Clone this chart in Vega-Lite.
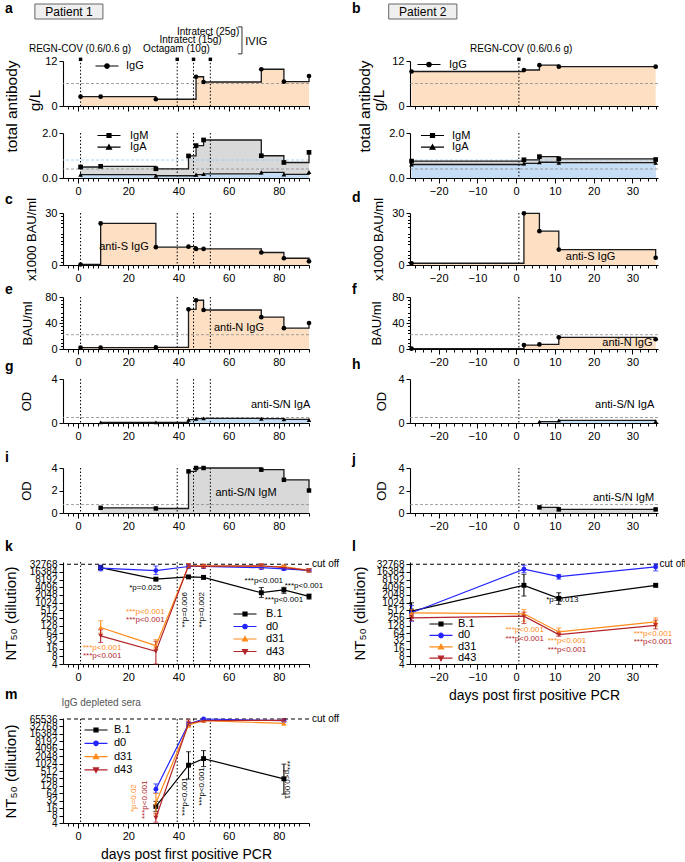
{
"$schema": "https://vega.github.io/schema/vega-lite/v6.json",
"background": "white",
"padding": {"left": 3, "top": 0, "right": 0, "bottom": 0},
"columns": 2,
"bounds": "flush",
"spacing": {"row": 0, "column": 101},
"resolve": {"scale": {"color": "independent", "shape": "independent"}, "legend": {"color": "independent", "shape": "independent"}},
"datasets": {
 "one": [{}],
 "p1_tx": [{"day": 1}, {"day": 39.5}, {"day": 46}, {"day": 52.7}],
 "p2_tx": [{"day": 0.7}],
 "p1_igg": [{"iso": "IgG", "day": 1, "value": 2.5}, {"iso": "IgG", "day": 9, "value": 2.5}, {"iso": "IgG", "day": 31, "value": 1.8}, {"iso": "IgG", "day": 47, "value": 7.8}, {"iso": "IgG", "day": 50, "value": 6.4}, {"iso": "IgG", "day": 73, "value": 9.8}, {"iso": "IgG", "day": 82, "value": 6.5}, {"iso": "IgG", "day": 92, "value": 8.0}],
 "p1_igma": [{"iso": "IgM", "day": 1, "value": 0.49}, {"iso": "IgM", "day": 9, "value": 0.52}, {"iso": "IgM", "day": 31, "value": 0.41}, {"iso": "IgM", "day": 44, "value": 0.98}, {"iso": "IgM", "day": 47, "value": 1.44}, {"iso": "IgM", "day": 50, "value": 1.69}, {"iso": "IgM", "day": 73, "value": 0.99}, {"iso": "IgM", "day": 82, "value": 0.69}, {"iso": "IgM", "day": 92, "value": 1.14}, {"iso": "IgA", "day": 1, "value": 0.15}, {"iso": "IgA", "day": 31, "value": 0.1}, {"iso": "IgA", "day": 47, "value": 0.15}, {"iso": "IgA", "day": 50, "value": 0.18}, {"iso": "IgA", "day": 73, "value": 0.25}, {"iso": "IgA", "day": 82, "value": 0.16}, {"iso": "IgA", "day": 92, "value": 0.27}],
 "p2_igg": [{"iso": "IgG", "day": -27, "value": 9.2}, {"iso": "IgG", "day": 2, "value": 9.6}, {"iso": "IgG", "day": 6, "value": 10.9}, {"iso": "IgG", "day": 11, "value": 10.5}, {"iso": "IgG", "day": 36, "value": 10.5}],
 "p2_igma": [{"iso": "IgM", "day": -27, "value": 0.75}, {"iso": "IgM", "day": 2, "value": 0.81}, {"iso": "IgM", "day": 6, "value": 0.95}, {"iso": "IgM", "day": 11, "value": 0.85}, {"iso": "IgM", "day": 36, "value": 0.82}, {"iso": "IgA", "day": -27, "value": 0.6}, {"iso": "IgA", "day": 2, "value": 0.65}, {"iso": "IgA", "day": 6, "value": 0.7}, {"iso": "IgA", "day": 11, "value": 0.68}, {"iso": "IgA", "day": 36, "value": 0.68}],
 "p1_antiS": [{"day": 1, "value": 0.3}, {"day": 9, "value": 24}, {"day": 31, "value": 10.3}, {"day": 44, "value": 10.6}, {"day": 47, "value": 9.3}, {"day": 50, "value": 9.3}, {"day": 73, "value": 7.2}, {"day": 82, "value": 3.9}, {"day": 92, "value": 2.1}],
 "p2_antiS": [{"day": -27, "value": 1}, {"day": 2, "value": 29.8}, {"day": 6, "value": 19.5}, {"day": 11, "value": 8.9}, {"day": 36, "value": 4.2}],
 "p1_antiN": [{"day": 1, "value": 2}, {"day": 9, "value": 2}, {"day": 31, "value": 2.5}, {"day": 44, "value": 61}, {"day": 47, "value": 75}, {"day": 50, "value": 60}, {"day": 73, "value": 49}, {"day": 82, "value": 32}, {"day": 92, "value": 40}],
 "p2_antiN": [{"day": -27, "value": 0.5}, {"day": 2, "value": 6}, {"day": 6, "value": 7}, {"day": 11, "value": 18}, {"day": 36, "value": 15}],
 "p1_odA": [{"day": 9, "value": 0.06}, {"day": 31, "value": 0.06}, {"day": 44, "value": 0.3}, {"day": 47, "value": 0.39}, {"day": 50, "value": 0.42}, {"day": 73, "value": 0.39}, {"day": 82, "value": 0.33}, {"day": 92, "value": 0.27}],
 "p2_odA": [{"day": 6, "value": 0.12}, {"day": 11, "value": 0.24}, {"day": 36, "value": 0.15}],
 "p1_odM": [{"day": 9, "value": 0.46}, {"day": 31, "value": 0.4}, {"day": 44, "value": 3.7}, {"day": 47, "value": 4.0}, {"day": 50, "value": 4.0}, {"day": 73, "value": 3.85}, {"day": 82, "value": 2.95}, {"day": 92, "value": 2.0}],
 "p2_odM": [{"day": 6, "value": 0.5}, {"day": 11, "value": 0.32}, {"day": 36, "value": 0.32}],
 "k_nt": [
  {"series": "B.1", "day": 9, "value": 24000, "lo": 20000, "hi": 28500}, {"series": "B.1", "day": 31, "value": 8500, "lo": 7600, "hi": 9500}, {"series": "B.1", "day": 44, "value": 10400, "lo": 9500, "hi": 11400}, {"series": "B.1", "day": 50, "value": 10000, "lo": 8600, "hi": 11600}, {"series": "B.1", "day": 73, "value": 2500, "lo": 1620, "hi": 3980}, {"series": "B.1", "day": 82, "value": 3200, "lo": 2350, "hi": 4070}, {"series": "B.1", "day": 92, "value": 1800, "lo": 1400, "hi": 2200},
  {"series": "d0", "day": 9, "value": 23000, "lo": 18000, "hi": 30000}, {"series": "d0", "day": 31, "value": 18400, "lo": 12900, "hi": 28000}, {"series": "d0", "day": 44, "value": 26600, "lo": 23000, "hi": 31000}, {"series": "d0", "day": 50, "value": 26600, "lo": 23000, "hi": 31000}, {"series": "d0", "day": 73, "value": 24000, "lo": 21000, "hi": 28000}, {"series": "d0", "day": 82, "value": 21600, "lo": 19000, "hi": 25000}, {"series": "d0", "day": 92, "value": 18800, "lo": 16500, "hi": 21500},
  {"series": "d31", "day": 9, "value": 108, "lo": 65, "hi": 198}, {"series": "d31", "day": 31, "value": 21, "lo": 16, "hi": 36}, {"series": "d31", "day": 44, "value": 28500, "lo": 24000, "hi": 34000}, {"series": "d31", "day": 50, "value": 28500, "lo": 24500, "hi": 33000}, {"series": "d31", "day": 73, "value": 26600, "lo": 22000, "hi": 32000}, {"series": "d31", "day": 82, "value": 26600, "lo": 23000, "hi": 31000}, {"series": "d31", "day": 92, "value": 18800, "lo": 16000, "hi": 22000},
  {"series": "d43", "day": 9, "value": 51, "lo": 28, "hi": 88}, {"series": "d43", "day": 31, "value": 12.5, "lo": 4, "hi": 31}, {"series": "d43", "day": 44, "value": 28500, "lo": 24000, "hi": 34000}, {"series": "d43", "day": 50, "value": 27000, "lo": 23000, "hi": 32000}, {"series": "d43", "day": 73, "value": 28500, "lo": 24000, "hi": 34000}, {"series": "d43", "day": 82, "value": 24000, "lo": 21000, "hi": 28000}, {"series": "d43", "day": 92, "value": 18800, "lo": 16500, "hi": 21500}],
 "l_nt": [
  {"series": "B.1", "day": -27, "value": 474, "lo": 258, "hi": 1010}, {"series": "B.1", "day": 2, "value": 4870, "lo": 1850, "hi": 13200}, {"series": "B.1", "day": 11, "value": 1500, "lo": 870, "hi": 2500}, {"series": "B.1", "day": 36, "value": 4870, "lo": 4300, "hi": 5500},
  {"series": "d0", "day": -27, "value": 407, "lo": 191, "hi": 792}, {"series": "d0", "day": 2, "value": 20800, "lo": 15300, "hi": 29900}, {"series": "d0", "day": 11, "value": 10700, "lo": 8500, "hi": 13000}, {"series": "d0", "day": 36, "value": 25700, "lo": 18000, "hi": 34000},
  {"series": "d31", "day": -27, "value": 407, "lo": 300, "hi": 550}, {"series": "d31", "day": 2, "value": 372, "lo": 191, "hi": 549}, {"series": "d31", "day": 11, "value": 72.5, "lo": 57, "hi": 104}, {"series": "d31", "day": 36, "value": 180, "lo": 121, "hi": 258},
  {"series": "d43", "day": -27, "value": 258, "lo": 200, "hi": 330}, {"series": "d43", "day": 2, "value": 300, "lo": 154, "hi": 434}, {"series": "d43", "day": 11, "value": 57, "lo": 49, "hi": 77}, {"series": "d43", "day": 36, "value": 132, "lo": 95, "hi": 210}],
 "m_nt": [
  {"series": "B.1", "day": 31, "value": 18.8, "lo": 11.8, "hi": 30}, {"series": "B.1", "day": 44, "value": 880, "lo": 240, "hi": 3100}, {"series": "B.1", "day": 50, "value": 1630, "lo": 776, "hi": 3440}, {"series": "B.1", "day": 82, "value": 247, "lo": 59, "hi": 970},
  {"series": "d0", "day": 31, "value": 94, "lo": 65, "hi": 154}, {"series": "d0", "day": 44, "value": 41200, "lo": 36000, "hi": 47000}, {"series": "d0", "day": 50, "value": 65536, "lo": 62000, "hi": 68000}, {"series": "d0", "day": 82, "value": 56000, "lo": 50000, "hi": 62000},
  {"series": "d31", "day": 31, "value": 25.6, "lo": 8.5, "hi": 64}, {"series": "d31", "day": 44, "value": 37600, "lo": 30000, "hi": 44000}, {"series": "d31", "day": 50, "value": 56000, "lo": 50000, "hi": 62000}, {"series": "d31", "day": 82, "value": 43200, "lo": 38000, "hi": 52000},
  {"series": "d43", "day": 31, "value": 6.4, "lo": 4.3, "hi": 10}, {"series": "d43", "day": 44, "value": 43200, "lo": 35000, "hi": 60000}, {"series": "d43", "day": 50, "value": 56000, "lo": 50000, "hi": 62000}, {"series": "d43", "day": 82, "value": 58000, "lo": 52000, "hi": 64000}],
 "k_p": [{"text": "*p=0.025", "series": "B.1", "day": 26.8, "value": 3980}, {"text": "***p<0.001", "series": "B.1", "day": 74, "value": 7280}, {"text": "***p<0.001", "series": "B.1", "day": 90, "value": 4700}, {"text": "***p<0.001", "series": "B.1", "day": 82, "value": 1310}, {"text": "***p<0.001", "series": "d31", "day": 26.8, "value": 434}, {"text": "***p<0.001", "series": "d43", "day": 26.8, "value": 204}, {"text": "***p<0.001", "series": "d31", "day": 9.6, "value": 16.9}, {"text": "***p<0.001", "series": "d43", "day": 9.6, "value": 8}],
 "k_prot": [{"text": "**p=0.006", "series": "B.1", "day": 42.5, "value": 534}, {"text": "**p=0.002", "series": "B.1", "day": 49.2, "value": 534}],
 "l_p": [{"text": "*p=0.013", "series": "B.1", "day": 11.9, "value": 1350}, {"text": "***p<0.001", "series": "d31", "day": 2.2, "value": 89}, {"text": "***p<0.001", "series": "d43", "day": 2.2, "value": 38}, {"text": "***p<0.001", "series": "d31", "day": 13.1, "value": 31}, {"text": "***p<0.001", "series": "d43", "day": 13.1, "value": 13.7}, {"text": "***p<0.001", "series": "d31", "day": 35.3, "value": 62}, {"text": "***p<0.001", "series": "d43", "day": 35.3, "value": 29}],
 "m_prot": [{"text": "*p=0.02", "series": "d31", "day": 22.2, "value": 40.8}, {"text": "***p<0.001", "series": "d43", "day": 26.8, "value": 35}, {"text": "***p<0.001", "series": "B.1", "day": 42.8, "value": 47.5}, {"text": "***p<0.001", "series": "B.1", "day": 49.4, "value": 119}],
 "m_prot90": [{"text": "***p<0.001", "series": "B.1", "day": 83.3, "value": 223}]
},
"concat": [
 {
  "width": 246, "height": 106,
  "resolve": {"axis": {"x": "independent", "y": "independent"}},
  "layer": [
   {"data": {"name": "p1_igg"}, "mark": {"type": "point", "opacity": 0},
    "encoding": {
     "x": {"field": "day", "type": "quantitative", "scale": {"domain": [-6, 92], "nice": false, "zero": false}, "axis": {"values": [-4,-2,2,4,6,8,12,14,16,18,22,24,26,28,32,34,36,38,42,44,46,48,52,54,56,58,62,64,66,68,72,74,76,78,82,84,86,88,92], "labels": false, "domain": false, "tickSize": 3, "title": null, "orient": "bottom"}},
     "y": {"field": "value", "type": "quantitative", "scale": {"domain": [0, 12], "range": [106, 61], "nice": false, "zero": false}, "axis": null}}},
   {"layer": [
    {"data": {"name": "p1_igg"}, "mark": {"type": "area", "interpolate": "step-after", "color": "#fddfc3"},
     "encoding": {
      "x": {"field": "day", "type": "quantitative", "scale": {"domain": [-6, 92], "nice": false, "zero": false}, "axis": {"values": [0,10,20,30,40,50,60,70,80,90], "labels": false, "title": null, "tickSize": 5, "orient": "bottom"}},
      "y": {"field": "value", "type": "quantitative", "scale": {"domain": [0, 12], "range": [106, 61], "nice": false, "zero": false}, "axis": {"values": [0,4,8,12], "orient": "left", "title": "total antibody", "titleFontSize": 15.5, "titleX": -44, "titleY": 106, "titleAngle": 270, "titleAlign": "center", "titleBaseline": "bottom"}}}},
    {"data": {"name": "one"}, "mark": {"type": "rule", "color": "#8c8c8c", "strokeDash": [3, 2], "strokeWidth": 0.8}, "encoding": {"y": {"datum": 6}}},
    {"data": {"name": "p1_tx"}, "mark": {"type": "rule", "color": "#000", "strokeDash": [1.5, 2], "strokeWidth": 1}, "encoding": {"x": {"field": "day", "type": "quantitative"}, "y": {"datum": 12.45}, "y2": {"datum": 0}}},
    {"data": {"name": "p1_tx"}, "mark": {"type": "point", "shape": "square", "filled": true, "size": 12, "color": "#000", "opacity": 1}, "encoding": {"x": {"field": "day", "type": "quantitative"}, "y": {"datum": 12.45}}},
    {"data": {"name": "p1_igg"}, "mark": {"type": "line", "interpolate": "step-after", "color": "#1a1a1a", "strokeWidth": 1.3}, "encoding": {"x": {"field": "day", "type": "quantitative"}, "y": {"field": "value", "type": "quantitative"}}},
    {"data": {"name": "p1_igg"}, "mark": {"type": "point", "filled": true, "shape": "circle", "size": 22, "opacity": 1},
     "encoding": {"x": {"field": "day", "type": "quantitative"}, "y": {"field": "value", "type": "quantitative"},
      "color": {"field": "iso", "type": "nominal", "scale": {"domain": ["IgG"], "range": ["#000000"]}, "legend": {"title": null, "orient": "none", "legendX": 38, "legendY": 60, "symbolSize": 100, "symbolType": "M-2.3,0H2.3M-0.45,0A0.45,0.45,0,1,1,0.45,0A0.45,0.45,0,1,1,-0.45,0Z", "symbolStrokeColor": "#000", "symbolFillColor": "#000", "symbolStrokeWidth": 1.2, "labelFontSize": 11, "labelOffset": 13, "rowPadding": 0, "padding": 0}}}},
    {"data": {"name": "one"}, "mark": {"type": "text", "text": "REGN-COV (0.6/0.6 g)", "fontSize": 10, "clip": false}, "encoding": {"x": {"datum": 0.8}, "y": {"datum": 15.2}}},
    {"data": {"name": "one"}, "mark": {"type": "text", "text": "Octagam (10g)", "fontSize": 10, "clip": false}, "encoding": {"x": {"datum": 39.2}, "y": {"datum": 15.2}}},
    {"data": {"name": "one"}, "mark": {"type": "text", "text": "Intratect (15g)", "fontSize": 10, "clip": false}, "encoding": {"x": {"datum": 44.8}, "y": {"datum": 17.6}}},
    {"data": {"name": "one"}, "mark": {"type": "text", "text": "Intratect (25g)", "fontSize": 10, "clip": false}, "encoding": {"x": {"datum": 51.8}, "y": {"datum": 19.7}}},
    {"data": {"name": "one"}, "mark": {"type": "text", "text": "IVIG", "fontSize": 11, "align": "left", "clip": false}, "encoding": {"x": {"datum": 66.6}, "y": {"datum": 17.1}}},
    {"data": {"name": "one"}, "mark": {"type": "rule", "color": "#333", "strokeWidth": 1}, "encoding": {"x": {"datum": 65.3}, "y": {"datum": 13.9}, "y2": {"datum": 21.1}}},
    {"data": {"name": "one"}, "mark": {"type": "rule", "color": "#333", "strokeWidth": 1}, "encoding": {"x": {"datum": 63.7}, "x2": {"datum": 65.3}, "y": {"datum": 21.1}}},
    {"data": {"name": "one"}, "mark": {"type": "rule", "color": "#333", "strokeWidth": 1}, "encoding": {"x": {"datum": 63.7}, "x2": {"datum": 65.3}, "y": {"datum": 13.9}}},
    {"data": {"name": "one"}, "mark": {"type": "rect", "fill": "#efefef", "stroke": "#666", "strokeWidth": 1}, "encoding": {"x": {"datum": -17.2}, "x2": {"datum": 9.9}, "y": {"datum": 23.2}, "y2": {"datum": 27.2}}},
    {"data": {"name": "one"}, "mark": {"type": "text", "text": "Patient 1", "fontSize": 12, "clip": false}, "encoding": {"x": {"datum": -3.6}, "y": {"datum": 25.2}}},
    {"data": {"name": "one"}, "mark": {"type": "text", "text": "a", "fontSize": 14, "fontWeight": "bold", "align": "left", "clip": false}, "encoding": {"x": {"datum": -29.1}, "y": {"datum": 25.9}}}
   ]}
  ]
 },
 {
  "width": 248, "height": 106,
  "resolve": {"axis": {"x": "independent", "y": "independent"}},
  "layer": [
   {"data": {"name": "p2_igg"}, "mark": {"type": "point", "opacity": 0},
    "encoding": {
     "x": {"field": "day", "type": "quantitative", "scale": {"domain": [-27.4, 36.6], "nice": false, "zero": false}, "axis": {"values": [-26,-24,-22,-18,-16,-14,-12,-8,-6,-4,-2,2,4,6,8,12,14,16,18,22,24,26,28,32,34,36], "labels": false, "domain": false, "tickSize": 3, "title": null, "orient": "bottom"}},
     "y": {"field": "value", "type": "quantitative", "scale": {"domain": [0, 12], "range": [106, 61], "nice": false, "zero": false}, "axis": null}}},
   {"layer": [
    {"data": {"name": "p2_igg"}, "mark": {"type": "area", "interpolate": "step-after", "color": "#fddfc3"},
     "encoding": {
      "x": {"field": "day", "type": "quantitative", "scale": {"domain": [-27.4, 36.6], "nice": false, "zero": false}, "axis": {"values": [-20,-10,0,10,20,30], "labels": false, "title": null, "tickSize": 5, "orient": "bottom"}},
      "y": {"field": "value", "type": "quantitative", "scale": {"domain": [0, 12], "range": [106, 61], "nice": false, "zero": false}, "axis": {"values": [0,4,8,12], "orient": "left", "title": "total antibody", "titleFontSize": 15.5, "titleX": -38, "titleY": 106, "titleAngle": 270, "titleAlign": "center", "titleBaseline": "bottom"}}}},
    {"data": {"name": "one"}, "mark": {"type": "rule", "color": "#8c8c8c", "strokeDash": [3, 2], "strokeWidth": 0.8}, "encoding": {"y": {"datum": 6}}},
    {"data": {"name": "p2_tx"}, "mark": {"type": "rule", "color": "#000", "strokeDash": [1.5, 2], "strokeWidth": 1}, "encoding": {"x": {"field": "day", "type": "quantitative"}, "y": {"datum": 12.45}, "y2": {"datum": 0}}},
    {"data": {"name": "p2_tx"}, "mark": {"type": "point", "shape": "square", "filled": true, "size": 12, "color": "#000", "opacity": 1}, "encoding": {"x": {"field": "day", "type": "quantitative"}, "y": {"datum": 12.45}}},
    {"data": {"name": "p2_igg"}, "mark": {"type": "line", "interpolate": "step-after", "color": "#1a1a1a", "strokeWidth": 1.3}, "encoding": {"x": {"field": "day", "type": "quantitative"}, "y": {"field": "value", "type": "quantitative"}}},
    {"data": {"name": "p2_igg"}, "mark": {"type": "point", "filled": true, "shape": "circle", "size": 22, "opacity": 1},
     "encoding": {"x": {"field": "day", "type": "quantitative"}, "y": {"field": "value", "type": "quantitative"},
      "color": {"field": "iso", "type": "nominal", "scale": {"domain": ["IgG"], "range": ["#000000"]}, "legend": {"title": null, "orient": "none", "legendX": 13, "legendY": 58.5, "symbolSize": 100, "symbolType": "M-2.3,0H2.3M-0.45,0A0.45,0.45,0,1,1,0.45,0A0.45,0.45,0,1,1,-0.45,0Z", "symbolStrokeColor": "#000", "symbolFillColor": "#000", "symbolStrokeWidth": 1.2, "labelFontSize": 11, "labelOffset": 14, "rowPadding": 0, "padding": 0}}}},
    {"data": {"name": "one"}, "mark": {"type": "text", "text": "REGN-COV (0.6/0.6 g)", "fontSize": 10, "clip": false}, "encoding": {"x": {"datum": 1.3}, "y": {"datum": 15.2}}},
    {"data": {"name": "one"}, "mark": {"type": "rect", "fill": "#efefef", "stroke": "#666", "strokeWidth": 1}, "encoding": {"x": {"datum": -32.9}, "x2": {"datum": -15.3}, "y": {"datum": 23.2}, "y2": {"datum": 27.2}}},
    {"data": {"name": "one"}, "mark": {"type": "text", "text": "Patient 2", "fontSize": 12, "clip": false}, "encoding": {"x": {"datum": -24.1}, "y": {"datum": 25.2}}},
    {"data": {"name": "one"}, "mark": {"type": "text", "text": "b", "fontSize": 14, "fontWeight": "bold", "align": "left", "clip": false}, "encoding": {"x": {"datum": -42.4}, "y": {"datum": 25.9}}}
   ]}
  ]
 },
 {
  "width": 246, "height": 72,
  "resolve": {"axis": {"x": "independent", "y": "independent"}},
  "layer": [
   {"data": {"name": "p1_igma"}, "mark": {"type": "point", "opacity": 0},
    "encoding": {
     "x": {"field": "day", "type": "quantitative", "scale": {"domain": [-6, 92], "nice": false, "zero": false}, "axis": {"values": [-4,-2,2,4,6,8,12,14,16,18,22,24,26,28,32,34,36,38,42,44,46,48,52,54,56,58,62,64,66,68,72,74,76,78,82,84,86,88,92], "labels": false, "domain": false, "tickSize": 3, "title": null, "orient": "bottom"}},
     "y": {"field": "value", "type": "quantitative", "scale": {"domain": [0, 2], "range": [72, 27], "nice": false, "zero": false}, "axis": null}}},
   {"layer": [
    {"data": {"name": "p1_igma"}, "transform": [{"filter": "datum.iso === 'IgM'"}], "mark": {"type": "area", "interpolate": "step-after", "color": "#d9d9d9"},
     "encoding": {
      "x": {"field": "day", "type": "quantitative", "scale": {"domain": [-6, 92], "nice": false, "zero": false}, "axis": {"values": [0,10,20,30,40,50,60,70,80,90], "title": null, "tickSize": 5, "labelFlush": false, "orient": "bottom"}},
      "y": {"field": "value", "type": "quantitative", "scale": {"domain": [0, 2], "range": [72, 27], "nice": false, "zero": false}, "axis": {"values": [0,0.5,1,1.5,2], "format": ".1f", "orient": "left", "title": "g/L", "titleFontSize": 15.5, "titleX": -21, "titleY": -6, "titleAngle": 270, "titleAlign": "center", "titleBaseline": "bottom"}}}},
    {"data": {"name": "p1_igma"}, "transform": [{"filter": "datum.iso === 'IgA'"}], "mark": {"type": "area", "interpolate": "step-after", "color": "#c6ddf6"},
     "encoding": {"x": {"field": "day", "type": "quantitative"}, "y": {"field": "value", "type": "quantitative"}}},
    {"data": {"name": "one"}, "mark": {"type": "rule", "color": "#8c8c8c", "strokeDash": [3, 2], "strokeWidth": 0.8}, "encoding": {"y": {"datum": 0.4}}},
    {"data": {"name": "one"}, "mark": {"type": "rule", "color": "#9cc7ef", "strokeDash": [3, 2], "strokeWidth": 0.8}, "encoding": {"y": {"datum": 0.8}}},
    {"data": {"name": "p1_tx"}, "mark": {"type": "rule", "color": "#000", "strokeDash": [1.5, 2], "strokeWidth": 1}, "encoding": {"x": {"field": "day", "type": "quantitative"}, "y": {"datum": 2}, "y2": {"datum": 0}}},
    {"data": {"name": "p1_igma"}, "mark": {"type": "line", "interpolate": "step-after", "color": "#1a1a1a", "strokeWidth": 1.3}, "encoding": {"x": {"field": "day", "type": "quantitative"}, "y": {"field": "value", "type": "quantitative"}, "detail": {"field": "iso"}}},
    {"data": {"name": "p1_igma"}, "mark": {"type": "point", "filled": true, "size": 22, "opacity": 1},
     "encoding": {"x": {"field": "day", "type": "quantitative"}, "y": {"field": "value", "type": "quantitative"},
      "color": {"field": "iso", "type": "nominal", "scale": {"domain": ["IgM", "IgA"], "range": ["#000000", "#000000"]}, "legend": {"title": null, "orient": "none", "legendX": 40, "legendY": 23.5, "symbolSize": 100, "symbolType": {"expr": "datum.value === 'IgM' ? 'M-2.3,0H2.3M-0.4,-0.4H0.4V0.4H-0.4Z' : 'M-2.3,0H2.3M0,-0.5L0.5,0.4H-0.5Z'"}, "symbolStrokeColor": "#000", "symbolFillColor": "#000", "symbolStrokeWidth": 1.2, "labelFontSize": 11, "labelOffset": 15, "rowPadding": 0.7, "padding": 0}},
      "shape": {"field": "iso", "type": "nominal", "scale": {"domain": ["IgA", "IgM"], "range": ["triangle-up", "square"]}, "legend": null}}}
   ]}
  ]
 },
 {
  "width": 248, "height": 72,
  "resolve": {"axis": {"x": "independent", "y": "independent"}},
  "layer": [
   {"data": {"name": "p2_igma"}, "mark": {"type": "point", "opacity": 0},
    "encoding": {
     "x": {"field": "day", "type": "quantitative", "scale": {"domain": [-27.4, 36.6], "nice": false, "zero": false}, "axis": {"values": [-26,-24,-22,-18,-16,-14,-12,-8,-6,-4,-2,2,4,6,8,12,14,16,18,22,24,26,28,32,34,36], "labels": false, "domain": false, "tickSize": 3, "title": null, "orient": "bottom"}},
     "y": {"field": "value", "type": "quantitative", "scale": {"domain": [0, 2], "range": [72, 27], "nice": false, "zero": false}, "axis": null}}},
   {"layer": [
    {"data": {"name": "p2_igma"}, "transform": [{"filter": "datum.iso === 'IgM'"}], "mark": {"type": "area", "interpolate": "step-after", "color": "#d9d9d9"},
     "encoding": {
      "x": {"field": "day", "type": "quantitative", "scale": {"domain": [-27.4, 36.6], "nice": false, "zero": false}, "axis": {"values": [-20,-10,0,10,20,30], "title": null, "tickSize": 5, "labelFlush": false, "orient": "bottom"}},
      "y": {"field": "value", "type": "quantitative", "scale": {"domain": [0, 2], "range": [72, 27], "nice": false, "zero": false}, "axis": {"values": [0,0.5,1,1.5,2], "format": ".1f", "orient": "left", "title": "g/L", "titleFontSize": 15.5, "titleX": -24, "titleY": -6, "titleAngle": 270, "titleAlign": "center", "titleBaseline": "bottom"}}}},
    {"data": {"name": "p2_igma"}, "transform": [{"filter": "datum.iso === 'IgA'"}], "mark": {"type": "area", "interpolate": "step-after", "color": "#c6ddf6"},
     "encoding": {"x": {"field": "day", "type": "quantitative"}, "y": {"field": "value", "type": "quantitative"}}},
    {"data": {"name": "one"}, "mark": {"type": "rule", "color": "#8c8c8c", "strokeDash": [3, 2], "strokeWidth": 0.8}, "encoding": {"y": {"datum": 0.4}}},
    {"data": {"name": "one"}, "mark": {"type": "rule", "color": "#9cc7ef", "strokeDash": [3, 2], "strokeWidth": 0.8}, "encoding": {"y": {"datum": 0.8}}},
    {"data": {"name": "p2_tx"}, "mark": {"type": "rule", "color": "#000", "strokeDash": [1.5, 2], "strokeWidth": 1}, "encoding": {"x": {"field": "day", "type": "quantitative"}, "y": {"datum": 2}, "y2": {"datum": 0}}},
    {"data": {"name": "p2_igma"}, "mark": {"type": "line", "interpolate": "step-after", "color": "#1a1a1a", "strokeWidth": 1.3}, "encoding": {"x": {"field": "day", "type": "quantitative"}, "y": {"field": "value", "type": "quantitative"}, "detail": {"field": "iso"}}},
    {"data": {"name": "p2_igma"}, "mark": {"type": "point", "filled": true, "size": 22, "opacity": 1},
     "encoding": {"x": {"field": "day", "type": "quantitative"}, "y": {"field": "value", "type": "quantitative"},
      "color": {"field": "iso", "type": "nominal", "scale": {"domain": ["IgM", "IgA"], "range": ["#000000", "#000000"]}, "legend": {"title": null, "orient": "none", "legendX": 16.5, "legendY": 23.5, "symbolSize": 100, "symbolType": {"expr": "datum.value === 'IgM' ? 'M-2.3,0H2.3M-0.4,-0.4H0.4V0.4H-0.4Z' : 'M-2.3,0H2.3M0,-0.5L0.5,0.4H-0.5Z'"}, "symbolStrokeColor": "#000", "symbolFillColor": "#000", "symbolStrokeWidth": 1.2, "labelFontSize": 11, "labelOffset": 13.5, "rowPadding": 0.7, "padding": 0}},
      "shape": {"field": "iso", "type": "nominal", "scale": {"domain": ["IgA", "IgM"], "range": ["triangle-up", "square"]}, "legend": null}}}
   ]}
  ]
 },
 {
  "width": 246, "height": 87,
  "resolve": {"axis": {"x": "independent", "y": "independent"}},
  "layer": [
   {"data": {"name": "p1_antiS"}, "mark": {"type": "point", "opacity": 0},
    "encoding": {
     "x": {"field": "day", "type": "quantitative", "scale": {"domain": [-6, 92], "nice": false, "zero": false}, "axis": {"values": [-4,-2,2,4,6,8,12,14,16,18,22,24,26,28,32,34,36,38,42,44,46,48,52,54,56,58,62,64,66,68,72,74,76,78,82,84,86,88,92], "labels": false, "domain": false, "tickSize": 3, "title": null, "orient": "bottom"}},
     "y": {"field": "value", "type": "quantitative", "scale": {"domain": [0, 30], "range": [87, 35], "nice": false, "zero": false}, "axis": {"values": [2,4,6,8,12,14,16,18,22,24,26,28], "labels": false, "domain": false, "tickSize": 2.5, "title": null, "orient": "left"}}}},
   {"layer": [
    {"data": {"name": "p1_antiS"}, "mark": {"type": "area", "interpolate": "step-after", "color": "#fddfc3"},
     "encoding": {
      "x": {"field": "day", "type": "quantitative", "scale": {"domain": [-6, 92], "nice": false, "zero": false}, "axis": {"values": [0,10,20,30,40,50,60,70,80,90], "title": null, "tickSize": 5, "labelFlush": false, "orient": "bottom"}},
      "y": {"field": "value", "type": "quantitative", "scale": {"domain": [0, 30], "range": [87, 35], "nice": false, "zero": false}, "axis": {"values": [0,10,20,30], "orient": "left", "title": "x1000 BAU/ml", "titlePadding": 6}}}},
    {"data": {"name": "p1_tx"}, "mark": {"type": "rule", "color": "#000", "strokeDash": [1.5, 2], "strokeWidth": 1}, "encoding": {"x": {"field": "day", "type": "quantitative"}, "y": {"datum": 30}, "y2": {"datum": 0}}},
    {"data": {"name": "p1_antiS"}, "mark": {"type": "line", "interpolate": "step-after", "color": "#1a1a1a", "strokeWidth": 1.3}, "encoding": {"x": {"field": "day", "type": "quantitative"}, "y": {"field": "value", "type": "quantitative"}}},
    {"data": {"name": "p1_antiS"}, "mark": {"type": "point", "filled": true, "size": 22, "color": "#000", "opacity": 1}, "encoding": {"x": {"field": "day", "type": "quantitative"}, "y": {"field": "value", "type": "quantitative"}}},
    {"data": {"name": "one"}, "mark": {"type": "text", "text": "anti-S IgG", "fontSize": 11, "clip": false}, "encoding": {"x": {"datum": 18.3}, "y": {"datum": 10.3}}},
    {"data": {"name": "one"}, "mark": {"type": "text", "text": "c", "fontSize": 14, "fontWeight": "bold", "align": "left", "clip": false}, "encoding": {"x": {"datum": -29.1}, "y": {"datum": 37.5}}}
   ]}
  ]
 },
 {
  "width": 248, "height": 87,
  "resolve": {"axis": {"x": "independent", "y": "independent"}},
  "layer": [
   {"data": {"name": "p2_antiS"}, "mark": {"type": "point", "opacity": 0},
    "encoding": {
     "x": {"field": "day", "type": "quantitative", "scale": {"domain": [-27.4, 36.6], "nice": false, "zero": false}, "axis": {"values": [-26,-24,-22,-18,-16,-14,-12,-8,-6,-4,-2,2,4,6,8,12,14,16,18,22,24,26,28,32,34,36], "labels": false, "domain": false, "tickSize": 3, "title": null, "orient": "bottom"}},
     "y": {"field": "value", "type": "quantitative", "scale": {"domain": [0, 30], "range": [87, 35], "nice": false, "zero": false}, "axis": {"values": [2,4,6,8,12,14,16,18,22,24,26,28], "labels": false, "domain": false, "tickSize": 2.5, "title": null, "orient": "left"}}}},
   {"layer": [
    {"data": {"name": "p2_antiS"}, "mark": {"type": "area", "interpolate": "step-after", "color": "#fddfc3"},
     "encoding": {
      "x": {"field": "day", "type": "quantitative", "scale": {"domain": [-27.4, 36.6], "nice": false, "zero": false}, "axis": {"values": [-20,-10,0,10,20,30], "title": null, "tickSize": 5, "labelFlush": false, "orient": "bottom"}},
      "y": {"field": "value", "type": "quantitative", "scale": {"domain": [0, 30], "range": [87, 35], "nice": false, "zero": false}, "axis": {"values": [0,10,20,30], "orient": "left", "title": "x1000 BAU/ml", "titlePadding": 6}}}},
    {"data": {"name": "p2_tx"}, "mark": {"type": "rule", "color": "#000", "strokeDash": [1.5, 2], "strokeWidth": 1}, "encoding": {"x": {"field": "day", "type": "quantitative"}, "y": {"datum": 30}, "y2": {"datum": 0}}},
    {"data": {"name": "p2_antiS"}, "mark": {"type": "line", "interpolate": "step-after", "color": "#1a1a1a", "strokeWidth": 1.3}, "encoding": {"x": {"field": "day", "type": "quantitative"}, "y": {"field": "value", "type": "quantitative"}}},
    {"data": {"name": "p2_antiS"}, "mark": {"type": "point", "filled": true, "size": 22, "color": "#000", "opacity": 1}, "encoding": {"x": {"field": "day", "type": "quantitative"}, "y": {"field": "value", "type": "quantitative"}}},
    {"data": {"name": "one"}, "mark": {"type": "text", "text": "anti-S IgG", "fontSize": 11, "clip": false}, "encoding": {"x": {"datum": 19.2}, "y": {"datum": 4.8}}},
    {"data": {"name": "one"}, "mark": {"type": "text", "text": "d", "fontSize": 14, "fontWeight": "bold", "align": "left", "clip": false}, "encoding": {"x": {"datum": -42.4}, "y": {"datum": 38.5}}}
   ]}
  ]
 },
 {
  "width": 246, "height": 84,
  "resolve": {"axis": {"x": "independent", "y": "independent"}},
  "layer": [
   {"data": {"name": "p1_antiN"}, "mark": {"type": "point", "opacity": 0},
    "encoding": {
     "x": {"field": "day", "type": "quantitative", "scale": {"domain": [-6, 92], "nice": false, "zero": false}, "axis": {"values": [-4,-2,2,4,6,8,12,14,16,18,22,24,26,28,32,34,36,38,42,44,46,48,52,54,56,58,62,64,66,68,72,74,76,78,82,84,86,88,92], "labels": false, "domain": false, "tickSize": 3, "title": null, "orient": "bottom"}},
     "y": {"field": "value", "type": "quantitative", "scale": {"domain": [0, 80], "range": [84, 32], "nice": false, "zero": false}, "axis": {"values": [5,10,15,25,30,35,45,50,55,65,70,75], "labels": false, "domain": false, "tickSize": 2.5, "title": null, "orient": "left"}}}},
   {"layer": [
    {"data": {"name": "p1_antiN"}, "mark": {"type": "area", "interpolate": "step-after", "color": "#fddfc3"},
     "encoding": {
      "x": {"field": "day", "type": "quantitative", "scale": {"domain": [-6, 92], "nice": false, "zero": false}, "axis": {"values": [0,10,20,30,40,50,60,70,80,90], "title": null, "tickSize": 5, "labelFlush": false, "orient": "bottom"}},
      "y": {"field": "value", "type": "quantitative", "scale": {"domain": [0, 80], "range": [84, 32], "nice": false, "zero": false}, "axis": {"values": [0,20,40,60,80], "orient": "left", "title": "BAU/ml", "titlePadding": 10}}}},
    {"data": {"name": "one"}, "mark": {"type": "rule", "color": "#8c8c8c", "strokeDash": [3, 2], "strokeWidth": 0.8}, "encoding": {"y": {"datum": 22}}},
    {"data": {"name": "p1_tx"}, "mark": {"type": "rule", "color": "#000", "strokeDash": [1.5, 2], "strokeWidth": 1}, "encoding": {"x": {"field": "day", "type": "quantitative"}, "y": {"datum": 80}, "y2": {"datum": 0}}},
    {"data": {"name": "p1_antiN"}, "mark": {"type": "line", "interpolate": "step-after", "color": "#1a1a1a", "strokeWidth": 1.3}, "encoding": {"x": {"field": "day", "type": "quantitative"}, "y": {"field": "value", "type": "quantitative"}}},
    {"data": {"name": "p1_antiN"}, "mark": {"type": "point", "filled": true, "size": 22, "color": "#000", "opacity": 1}, "encoding": {"x": {"field": "day", "type": "quantitative"}, "y": {"field": "value", "type": "quantitative"}}},
    {"data": {"name": "one"}, "mark": {"type": "text", "text": "anti-N IgG", "fontSize": 11, "clip": false}, "encoding": {"x": {"datum": 64.1}, "y": {"datum": 33}}},
    {"data": {"name": "one"}, "mark": {"type": "text", "text": "e", "fontSize": 14, "fontWeight": "bold", "align": "left", "clip": false}, "encoding": {"x": {"datum": -29.1}, "y": {"datum": 90.8}}}
   ]}
  ]
 },
 {
  "width": 248, "height": 84,
  "resolve": {"axis": {"x": "independent", "y": "independent"}},
  "layer": [
   {"data": {"name": "p2_antiN"}, "mark": {"type": "point", "opacity": 0},
    "encoding": {
     "x": {"field": "day", "type": "quantitative", "scale": {"domain": [-27.4, 36.6], "nice": false, "zero": false}, "axis": {"values": [-26,-24,-22,-18,-16,-14,-12,-8,-6,-4,-2,2,4,6,8,12,14,16,18,22,24,26,28,32,34,36], "labels": false, "domain": false, "tickSize": 3, "title": null, "orient": "bottom"}},
     "y": {"field": "value", "type": "quantitative", "scale": {"domain": [0, 80], "range": [84, 32], "nice": false, "zero": false}, "axis": {"values": [5,10,15,25,30,35,45,50,55,65,70,75], "labels": false, "domain": false, "tickSize": 2.5, "title": null, "orient": "left"}}}},
   {"layer": [
    {"data": {"name": "p2_antiN"}, "mark": {"type": "area", "interpolate": "step-after", "color": "#fddfc3"},
     "encoding": {
      "x": {"field": "day", "type": "quantitative", "scale": {"domain": [-27.4, 36.6], "nice": false, "zero": false}, "axis": {"values": [-20,-10,0,10,20,30], "title": null, "tickSize": 5, "labelFlush": false, "orient": "bottom"}},
      "y": {"field": "value", "type": "quantitative", "scale": {"domain": [0, 80], "range": [84, 32], "nice": false, "zero": false}, "axis": {"values": [0,20,40,60,80], "orient": "left", "title": "BAU/ml", "titlePadding": 8}}}},
    {"data": {"name": "one"}, "mark": {"type": "rule", "color": "#8c8c8c", "strokeDash": [3, 2], "strokeWidth": 0.8}, "encoding": {"y": {"datum": 22}}},
    {"data": {"name": "p2_tx"}, "mark": {"type": "rule", "color": "#000", "strokeDash": [1.5, 2], "strokeWidth": 1}, "encoding": {"x": {"field": "day", "type": "quantitative"}, "y": {"datum": 80}, "y2": {"datum": 0}}},
    {"data": {"name": "p2_antiN"}, "mark": {"type": "line", "interpolate": "step-after", "color": "#1a1a1a", "strokeWidth": 1.3}, "encoding": {"x": {"field": "day", "type": "quantitative"}, "y": {"field": "value", "type": "quantitative"}}},
    {"data": {"name": "p2_antiN"}, "mark": {"type": "point", "filled": true, "size": 22, "color": "#000", "opacity": 1}, "encoding": {"x": {"field": "day", "type": "quantitative"}, "y": {"field": "value", "type": "quantitative"}}},
    {"data": {"name": "one"}, "mark": {"type": "text", "text": "anti-N IgG", "fontSize": 11, "clip": false}, "encoding": {"x": {"datum": 28.7}, "y": {"datum": 8.7}}},
    {"data": {"name": "one"}, "mark": {"type": "text", "text": "f", "fontSize": 14, "fontWeight": "bold", "align": "left", "clip": false}, "encoding": {"x": {"datum": -42.4}, "y": {"datum": 90.8}}}
   ]}
  ]
 },
 {
  "width": 246, "height": 74,
  "resolve": {"axis": {"x": "independent", "y": "independent"}},
  "layer": [
   {"data": {"name": "p1_odA"}, "mark": {"type": "point", "opacity": 0},
    "encoding": {
     "x": {"field": "day", "type": "quantitative", "scale": {"domain": [-6, 92], "nice": false, "zero": false}, "axis": {"values": [-4,-2,2,4,6,8,12,14,16,18,22,24,26,28,32,34,36,38,42,44,46,48,52,54,56,58,62,64,66,68,72,74,76,78,82,84,86,88,92], "labels": false, "domain": false, "tickSize": 3, "title": null, "orient": "bottom"}},
     "y": {"field": "value", "type": "quantitative", "scale": {"domain": [0, 4], "range": [74, 30], "nice": false, "zero": false}, "axis": null}}},
   {"layer": [
    {"data": {"name": "p1_odA"}, "mark": {"type": "area", "interpolate": "step-after", "color": "#c6ddf6"},
     "encoding": {
      "x": {"field": "day", "type": "quantitative", "scale": {"domain": [-6, 92], "nice": false, "zero": false}, "axis": {"values": [0,10,20,30,40,50,60,70,80,90], "title": null, "tickSize": 5, "labelFlush": false, "orient": "bottom"}},
      "y": {"field": "value", "type": "quantitative", "scale": {"domain": [0, 4], "range": [74, 30], "nice": false, "zero": false}, "axis": {"values": [0,1,2,3,4], "orient": "left", "title": "OD", "titlePadding": 17}}}},
    {"data": {"name": "one"}, "mark": {"type": "rule", "color": "#8c8c8c", "strokeDash": [3, 2], "strokeWidth": 0.8}, "encoding": {"y": {"datum": 0.5}}},
    {"data": {"name": "p1_tx"}, "mark": {"type": "rule", "color": "#000", "strokeDash": [1.5, 2], "strokeWidth": 1}, "encoding": {"x": {"field": "day", "type": "quantitative"}, "y": {"datum": 4}, "y2": {"datum": 0}}},
    {"data": {"name": "p1_odA"}, "mark": {"type": "line", "interpolate": "step-after", "color": "#1a1a1a", "strokeWidth": 1.3}, "encoding": {"x": {"field": "day", "type": "quantitative"}, "y": {"field": "value", "type": "quantitative"}}},
    {"data": {"name": "p1_odA"}, "mark": {"type": "point", "filled": true, "shape": "triangle-up", "size": 20, "color": "#000", "opacity": 1}, "encoding": {"x": {"field": "day", "type": "quantitative"}, "y": {"field": "value", "type": "quantitative"}}},
    {"data": {"name": "one"}, "mark": {"type": "text", "text": "anti-S/N IgA", "fontSize": 11, "clip": false}, "encoding": {"x": {"datum": 80.7}, "y": {"datum": 1.62}}},
    {"data": {"name": "one"}, "mark": {"type": "text", "text": "g", "fontSize": 14, "fontWeight": "bold", "align": "left", "clip": false}, "encoding": {"x": {"datum": -29.1}, "y": {"datum": 5.12}}}
   ]}
  ]
 },
 {
  "width": 248, "height": 74,
  "resolve": {"axis": {"x": "independent", "y": "independent"}},
  "layer": [
   {"data": {"name": "p2_odA"}, "mark": {"type": "point", "opacity": 0},
    "encoding": {
     "x": {"field": "day", "type": "quantitative", "scale": {"domain": [-27.4, 36.6], "nice": false, "zero": false}, "axis": {"values": [-26,-24,-22,-18,-16,-14,-12,-8,-6,-4,-2,2,4,6,8,12,14,16,18,22,24,26,28,32,34,36], "labels": false, "domain": false, "tickSize": 3, "title": null, "orient": "bottom"}},
     "y": {"field": "value", "type": "quantitative", "scale": {"domain": [0, 4], "range": [74, 30], "nice": false, "zero": false}, "axis": null}}},
   {"layer": [
    {"data": {"name": "p2_odA"}, "mark": {"type": "area", "interpolate": "step-after", "color": "#c6ddf6"},
     "encoding": {
      "x": {"field": "day", "type": "quantitative", "scale": {"domain": [-27.4, 36.6], "nice": false, "zero": false}, "axis": {"values": [-20,-10,0,10,20,30], "title": null, "tickSize": 5, "labelFlush": false, "orient": "bottom"}},
      "y": {"field": "value", "type": "quantitative", "scale": {"domain": [0, 4], "range": [74, 30], "nice": false, "zero": false}, "axis": {"values": [0,1,2,3,4], "orient": "left", "title": "OD", "titlePadding": 9}}}},
    {"data": {"name": "one"}, "mark": {"type": "rule", "color": "#8c8c8c", "strokeDash": [3, 2], "strokeWidth": 0.8}, "encoding": {"y": {"datum": 0.5}}},
    {"data": {"name": "p2_tx"}, "mark": {"type": "rule", "color": "#000", "strokeDash": [1.5, 2], "strokeWidth": 1}, "encoding": {"x": {"field": "day", "type": "quantitative"}, "y": {"datum": 4}, "y2": {"datum": 0}}},
    {"data": {"name": "p2_odA"}, "mark": {"type": "line", "interpolate": "step-after", "color": "#1a1a1a", "strokeWidth": 1.3}, "encoding": {"x": {"field": "day", "type": "quantitative"}, "y": {"field": "value", "type": "quantitative"}}},
    {"data": {"name": "p2_odA"}, "mark": {"type": "point", "filled": true, "shape": "triangle-up", "size": 20, "color": "#000", "opacity": 1}, "encoding": {"x": {"field": "day", "type": "quantitative"}, "y": {"field": "value", "type": "quantitative"}}},
    {"data": {"name": "one"}, "mark": {"type": "text", "text": "anti-S/N IgA", "fontSize": 11, "clip": false}, "encoding": {"x": {"datum": 28}, "y": {"datum": 1.62}}},
    {"data": {"name": "one"}, "mark": {"type": "text", "text": "h", "fontSize": 14, "fontWeight": "bold", "align": "left", "clip": false}, "encoding": {"x": {"datum": -42.4}, "y": {"datum": 5.27}}}
   ]}
  ]
 },
 {
  "width": 246, "height": 90,
  "resolve": {"axis": {"x": "independent", "y": "independent"}},
  "layer": [
   {"data": {"name": "p1_odM"}, "mark": {"type": "point", "opacity": 0},
    "encoding": {
     "x": {"field": "day", "type": "quantitative", "scale": {"domain": [-6, 92], "nice": false, "zero": false}, "axis": {"values": [-4,-2,2,4,6,8,12,14,16,18,22,24,26,28,32,34,36,38,42,44,46,48,52,54,56,58,62,64,66,68,72,74,76,78,82,84,86,88,92], "labels": false, "domain": false, "tickSize": 3, "title": null, "orient": "bottom"}},
     "y": {"field": "value", "type": "quantitative", "scale": {"domain": [0, 4], "range": [90, 45], "nice": false, "zero": false}, "axis": null}}},
   {"layer": [
    {"data": {"name": "p1_odM"}, "mark": {"type": "area", "interpolate": "step-after", "color": "#d9d9d9"},
     "encoding": {
      "x": {"field": "day", "type": "quantitative", "scale": {"domain": [-6, 92], "nice": false, "zero": false}, "axis": {"values": [0,10,20,30,40,50,60,70,80,90], "title": null, "tickSize": 5, "labelFlush": false, "orient": "bottom"}},
      "y": {"field": "value", "type": "quantitative", "scale": {"domain": [0, 4], "range": [90, 45], "nice": false, "zero": false}, "axis": {"values": [0,1,2,3,4], "orient": "left", "title": "OD", "titlePadding": 17}}}},
    {"data": {"name": "one"}, "mark": {"type": "rule", "color": "#8c8c8c", "strokeDash": [3, 2], "strokeWidth": 0.8}, "encoding": {"y": {"datum": 0.75}}},
    {"data": {"name": "p1_tx"}, "mark": {"type": "rule", "color": "#000", "strokeDash": [1.5, 2], "strokeWidth": 1}, "encoding": {"x": {"field": "day", "type": "quantitative"}, "y": {"datum": 4}, "y2": {"datum": 0}}},
    {"data": {"name": "p1_odM"}, "mark": {"type": "line", "interpolate": "step-after", "color": "#1a1a1a", "strokeWidth": 1.3}, "encoding": {"x": {"field": "day", "type": "quantitative"}, "y": {"field": "value", "type": "quantitative"}}},
    {"data": {"name": "p1_odM"}, "mark": {"type": "point", "filled": true, "shape": "square", "size": 20, "color": "#000", "opacity": 1}, "encoding": {"x": {"field": "day", "type": "quantitative"}, "y": {"field": "value", "type": "quantitative"}}},
    {"data": {"name": "one"}, "mark": {"type": "text", "text": "anti-S/N IgM", "fontSize": 11, "clip": false}, "encoding": {"x": {"datum": 66.9}, "y": {"datum": 1.81}}},
    {"data": {"name": "one"}, "mark": {"type": "text", "text": "i", "fontSize": 14, "fontWeight": "bold", "align": "left", "clip": false}, "encoding": {"x": {"datum": -29.1}, "y": {"datum": 4.86}}}
   ]}
  ]
 },
 {
  "width": 248, "height": 90,
  "resolve": {"axis": {"x": "independent", "y": "independent"}},
  "layer": [
   {"data": {"name": "p2_odM"}, "mark": {"type": "point", "opacity": 0},
    "encoding": {
     "x": {"field": "day", "type": "quantitative", "scale": {"domain": [-27.4, 36.6], "nice": false, "zero": false}, "axis": {"values": [-26,-24,-22,-18,-16,-14,-12,-8,-6,-4,-2,2,4,6,8,12,14,16,18,22,24,26,28,32,34,36], "labels": false, "domain": false, "tickSize": 3, "title": null, "orient": "bottom"}},
     "y": {"field": "value", "type": "quantitative", "scale": {"domain": [0, 4], "range": [90, 45], "nice": false, "zero": false}, "axis": null}}},
   {"layer": [
    {"data": {"name": "p2_odM"}, "mark": {"type": "area", "interpolate": "step-after", "color": "#d9d9d9"},
     "encoding": {
      "x": {"field": "day", "type": "quantitative", "scale": {"domain": [-27.4, 36.6], "nice": false, "zero": false}, "axis": {"values": [-20,-10,0,10,20,30], "title": null, "tickSize": 5, "labelFlush": false, "orient": "bottom"}},
      "y": {"field": "value", "type": "quantitative", "scale": {"domain": [0, 4], "range": [90, 45], "nice": false, "zero": false}, "axis": {"values": [0,1,2,3,4], "orient": "left", "title": "OD", "titlePadding": 9}}}},
    {"data": {"name": "one"}, "mark": {"type": "rule", "color": "#8c8c8c", "strokeDash": [3, 2], "strokeWidth": 0.8}, "encoding": {"y": {"datum": 0.75}}},
    {"data": {"name": "p2_tx"}, "mark": {"type": "rule", "color": "#000", "strokeDash": [1.5, 2], "strokeWidth": 1}, "encoding": {"x": {"field": "day", "type": "quantitative"}, "y": {"datum": 4}, "y2": {"datum": 0}}},
    {"data": {"name": "p2_odM"}, "mark": {"type": "line", "interpolate": "step-after", "color": "#1a1a1a", "strokeWidth": 1.3}, "encoding": {"x": {"field": "day", "type": "quantitative"}, "y": {"field": "value", "type": "quantitative"}}},
    {"data": {"name": "p2_odM"}, "mark": {"type": "point", "filled": true, "shape": "square", "size": 20, "color": "#000", "opacity": 1}, "encoding": {"x": {"field": "day", "type": "quantitative"}, "y": {"field": "value", "type": "quantitative"}}},
    {"data": {"name": "one"}, "mark": {"type": "text", "text": "anti-S/N IgM", "fontSize": 11, "clip": false}, "encoding": {"x": {"datum": 27.7}, "y": {"datum": 1.3}}},
    {"data": {"name": "one"}, "mark": {"type": "text", "text": "j", "fontSize": 14, "fontWeight": "bold", "align": "left", "clip": false}, "encoding": {"x": {"datum": -42.4}, "y": {"datum": 4.71}}}
   ]}
  ]
 },
 {
  "width": 246, "height": 151,
  "resolve": {"axis": {"x": "independent", "y": "independent"}},
  "layer": [
   {"data": {"name": "k_nt"}, "mark": {"type": "point", "opacity": 0},
    "encoding": {
     "x": {"field": "day", "type": "quantitative", "scale": {"domain": [-6, 92], "nice": false, "zero": false}, "axis": {"values": [-4,-2,2,4,6,8,12,14,16,18,22,24,26,28,32,34,36,38,42,44,46,48,52,54,56,58,62,64,66,68,72,74,76,78,82,84,86,88,92], "labels": false, "domain": false, "tickSize": 3, "title": null, "orient": "bottom"}},
     "y": {"field": "value", "type": "quantitative", "scale": {"type": "log", "base": 2, "domain": [4, 40000], "range": [151, 49], "nice": false}, "axis": null}}},
   {"layer": [
    {"data": {"name": "k_nt"}, "mark": {"type": "point", "filled": true, "size": 24, "opacity": 1},
     "encoding": {
      "x": {"field": "day", "type": "quantitative", "scale": {"domain": [-6, 92], "nice": false, "zero": false}, "axis": {"values": [0,10,20,30,40,50,60,70,80,90], "title": null, "tickSize": 5, "labelFlush": false, "orient": "bottom"}},
      "y": {"field": "value", "type": "quantitative", "title": "NT₅₀ (dilution)", "scale": {"type": "log", "base": 2, "domain": [4, 40000], "range": [151, 49], "nice": false}, "axis": {"values": [4,8,16,32,64,128,256,512,1024,2048,4096,8192,16384,32768], "format": "d", "labelOverlap": false, "labelFontSize": 10, "orient": "left", "title": "NT₅₀ (dilution)", "titleFontSize": 15, "titlePadding": 11}},
      "color": {"field": "series", "type": "nominal", "scale": {"domain": ["B.1", "d0", "d31", "d43"], "range": ["#000000", "#2424ff", "#ff8c1a", "#b3242b"]}, "legend": {"title": null, "orient": "none", "legendX": 176, "legendY": 95, "symbolSize": 100, "symbolType": {"expr": "datum.value === 'B.1' ? 'M-2.3,0H2.3M-0.4,-0.4H0.4V0.4H-0.4Z' : datum.value === 'd0' ? 'M-2.3,0H2.3M-0.45,0A0.45,0.45,0,1,1,0.45,0A0.45,0.45,0,1,1,-0.45,0Z' : datum.value === 'd31' ? 'M-2.3,0H2.3M0,-0.5L0.5,0.4H-0.5Z' : 'M-2.3,0H2.3M0,0.5L0.5,-0.4H-0.5Z'"}, "symbolStrokeWidth": 1.2, "labelFontSize": 11, "labelOffset": 15, "rowPadding": 1.5, "padding": 0}},
      "shape": {"field": "series", "type": "nominal", "scale": {"domain": ["d0", "B.1", "d31", "d43"], "range": ["circle", "square", "triangle-up", "triangle-down"]}, "legend": null}}},
    {"data": {"name": "one"}, "mark": {"type": "rule", "color": "#000", "strokeDash": [4, 3], "strokeWidth": 1.1}, "encoding": {"y": {"datum": 32768}}},
    {"data": {"name": "p1_tx"}, "mark": {"type": "rule", "color": "#000", "strokeDash": [1.5, 2], "strokeWidth": 1}, "encoding": {"x": {"field": "day", "type": "quantitative"}, "y": {"datum": 40000}, "y2": {"datum": 4}}},
    {"data": {"name": "k_nt"}, "mark": {"type": "errorbar", "ticks": {"size": 5}, "thickness": 1.1}, "encoding": {"x": {"field": "day", "type": "quantitative"}, "y": {"field": "lo", "type": "quantitative", "title": "NT₅₀ (dilution)"}, "y2": {"field": "hi"}, "color": {"field": "series", "type": "nominal", "legend": null}}},
    {"data": {"name": "k_nt"}, "mark": {"type": "line", "strokeWidth": 1.2}, "encoding": {"x": {"field": "day", "type": "quantitative"}, "y": {"field": "value", "type": "quantitative", "title": "NT₅₀ (dilution)"}, "color": {"field": "series", "type": "nominal", "legend": null}}},
    {"data": {"name": "k_p"}, "mark": {"type": "text", "fontSize": 8, "clip": false}, "encoding": {"x": {"field": "day", "type": "quantitative"}, "y": {"field": "value", "type": "quantitative", "title": "NT₅₀ (dilution)"}, "text": {"field": "text"}, "color": {"field": "series", "type": "nominal", "legend": null}}},
    {"data": {"name": "k_prot"}, "mark": {"type": "text", "fontSize": 8, "angle": 270, "clip": false}, "encoding": {"x": {"field": "day", "type": "quantitative"}, "y": {"field": "value", "type": "quantitative", "title": "NT₅₀ (dilution)"}, "text": {"field": "text"}, "color": {"field": "series", "type": "nominal", "legend": null}}},
    {"data": {"name": "one"}, "mark": {"type": "text", "text": "cut off", "fontSize": 10, "align": "left", "clip": false}, "encoding": {"x": {"datum": 93.2}, "y": {"datum": 32768}}},
    {"data": {"name": "one"}, "mark": {"type": "text", "text": "k", "fontSize": 14, "fontWeight": "bold", "align": "left", "clip": false}, "encoding": {"x": {"datum": -29.1}, "y": {"datum": 159000}}}
   ]}
  ]
 },
 {
  "width": 248, "height": 151,
  "resolve": {"axis": {"x": "independent", "y": "independent"}},
  "layer": [
   {"data": {"name": "l_nt"}, "mark": {"type": "point", "opacity": 0},
    "encoding": {
     "x": {"field": "day", "type": "quantitative", "scale": {"domain": [-27.4, 36.6], "nice": false, "zero": false}, "axis": {"values": [-26,-24,-22,-18,-16,-14,-12,-8,-6,-4,-2,2,4,6,8,12,14,16,18,22,24,26,28,32,34,36], "labels": false, "domain": false, "tickSize": 3, "title": null, "orient": "bottom"}},
     "y": {"field": "value", "type": "quantitative", "scale": {"type": "log", "base": 2, "domain": [4, 40000], "range": [151, 49], "nice": false}, "axis": null}}},
   {"layer": [
    {"data": {"name": "l_nt"}, "mark": {"type": "point", "filled": true, "size": 24, "opacity": 1},
     "encoding": {
      "x": {"field": "day", "type": "quantitative", "scale": {"domain": [-27.4, 36.6], "nice": false, "zero": false}, "axis": {"values": [-20,-10,0,10,20,30], "title": "days post first positive PCR", "titleFontSize": 14, "titlePadding": 6, "tickSize": 5, "labelFlush": false, "orient": "bottom"}},
      "y": {"field": "value", "type": "quantitative", "title": "NT₅₀ (dilution)", "scale": {"type": "log", "base": 2, "domain": [4, 40000], "range": [151, 49], "nice": false}, "axis": {"values": [4,8,16,32,64,128,256,512,1024,2048,4096,8192,16384,32768], "format": "d", "labelOverlap": false, "labelFontSize": 10, "orient": "left", "title": "NT₅₀ (dilution)", "titleFontSize": 15, "titlePadding": 9}},
      "color": {"field": "series", "type": "nominal", "scale": {"domain": ["B.1", "d0", "d31", "d43"], "range": ["#000000", "#2424ff", "#ff8c1a", "#b3242b"]}, "legend": {"title": null, "orient": "none", "legendX": 25, "legendY": 105, "symbolSize": 100, "symbolType": {"expr": "datum.value === 'B.1' ? 'M-2.3,0H2.3M-0.4,-0.4H0.4V0.4H-0.4Z' : datum.value === 'd0' ? 'M-2.3,0H2.3M-0.45,0A0.45,0.45,0,1,1,0.45,0A0.45,0.45,0,1,1,-0.45,0Z' : datum.value === 'd31' ? 'M-2.3,0H2.3M0,-0.5L0.5,0.4H-0.5Z' : 'M-2.3,0H2.3M0,0.5L0.5,-0.4H-0.5Z'"}, "symbolStrokeWidth": 1.2, "labelFontSize": 11, "labelOffset": 11, "rowPadding": 0.4, "padding": 0}},
      "shape": {"field": "series", "type": "nominal", "scale": {"domain": ["d0", "B.1", "d31", "d43"], "range": ["circle", "square", "triangle-up", "triangle-down"]}, "legend": null}}},
    {"data": {"name": "one"}, "mark": {"type": "rule", "color": "#000", "strokeDash": [4, 3], "strokeWidth": 1.1}, "encoding": {"y": {"datum": 32768}}},
    {"data": {"name": "p2_tx"}, "mark": {"type": "rule", "color": "#000", "strokeDash": [1.5, 2], "strokeWidth": 1}, "encoding": {"x": {"field": "day", "type": "quantitative"}, "y": {"datum": 40000}, "y2": {"datum": 4}}},
    {"data": {"name": "l_nt"}, "mark": {"type": "errorbar", "ticks": {"size": 5}, "thickness": 1.1}, "encoding": {"x": {"field": "day", "type": "quantitative"}, "y": {"field": "lo", "type": "quantitative", "title": "NT₅₀ (dilution)"}, "y2": {"field": "hi"}, "color": {"field": "series", "type": "nominal", "legend": null}}},
    {"data": {"name": "l_nt"}, "mark": {"type": "line", "strokeWidth": 1.2}, "encoding": {"x": {"field": "day", "type": "quantitative"}, "y": {"field": "value", "type": "quantitative", "title": "NT₅₀ (dilution)"}, "color": {"field": "series", "type": "nominal", "legend": null}}},
    {"data": {"name": "l_p"}, "mark": {"type": "text", "fontSize": 8, "clip": false}, "encoding": {"x": {"field": "day", "type": "quantitative"}, "y": {"field": "value", "type": "quantitative", "title": "NT₅₀ (dilution)"}, "text": {"field": "text"}, "color": {"field": "series", "type": "nominal", "legend": null}}},
    {"data": {"name": "one"}, "mark": {"type": "text", "text": "cut off", "fontSize": 10, "align": "left", "clip": false}, "encoding": {"x": {"datum": 37}, "y": {"datum": 32768}}},
    {"data": {"name": "one"}, "mark": {"type": "text", "text": "l", "fontSize": 14, "fontWeight": "bold", "align": "left", "clip": false}, "encoding": {"x": {"datum": -42.4}, "y": {"datum": 159000}}}
   ]}
  ]
 },
 {
  "width": 246, "height": 159,
  "resolve": {"axis": {"x": "independent", "y": "independent"}},
  "layer": [
   {"data": {"name": "m_nt"}, "mark": {"type": "point", "opacity": 0},
    "encoding": {
     "x": {"field": "day", "type": "quantitative", "scale": {"domain": [-6, 92], "nice": false, "zero": false}, "axis": {"values": [-4,-2,2,4,6,8,12,14,16,18,22,24,26,28,32,34,36,38,42,44,46,48,52,54,56,58,62,64,66,68,72,74,76,78,82,84,86,88,92], "labels": false, "domain": false, "tickSize": 3, "title": null, "orient": "bottom"}},
     "y": {"field": "value", "type": "quantitative", "scale": {"type": "log", "base": 2, "domain": [4, 65536], "range": [159, 55], "nice": false}, "axis": null}}},
   {"layer": [
    {"data": {"name": "m_nt"}, "mark": {"type": "point", "filled": true, "size": 24, "opacity": 1},
     "encoding": {
      "x": {"field": "day", "type": "quantitative", "scale": {"domain": [-6, 92], "nice": false, "zero": false}, "axis": {"values": [0,10,20,30,40,50,60,70,80,90], "title": "days post first positive PCR", "titleFontSize": 14, "titlePadding": 6, "tickSize": 5, "labelFlush": false, "orient": "bottom"}},
      "y": {"field": "value", "type": "quantitative", "title": "NT₅₀ (dilution)", "scale": {"type": "log", "base": 2, "domain": [4, 65536], "range": [159, 55], "nice": false}, "axis": {"values": [4,8,16,32,64,128,256,512,1024,2048,4096,8192,16384,32768,65536], "format": "d", "labelOverlap": false, "labelFontSize": 10, "orient": "left", "title": "NT₅₀ (dilution)", "titleFontSize": 15, "titlePadding": 11}},
      "color": {"field": "series", "type": "nominal", "scale": {"domain": ["B.1", "d0", "d31", "d43"], "range": ["#000000", "#2424ff", "#ff8c1a", "#b3242b"]}, "legend": {"title": null, "orient": "none", "legendX": 27, "legendY": 60, "symbolSize": 100, "symbolType": {"expr": "datum.value === 'B.1' ? 'M-2.3,0H2.3M-0.4,-0.4H0.4V0.4H-0.4Z' : datum.value === 'd0' ? 'M-2.3,0H2.3M-0.45,0A0.45,0.45,0,1,1,0.45,0A0.45,0.45,0,1,1,-0.45,0Z' : datum.value === 'd31' ? 'M-2.3,0H2.3M0,-0.5L0.5,0.4H-0.5Z' : 'M-2.3,0H2.3M0,0.5L0.5,-0.4H-0.5Z'"}, "symbolStrokeWidth": 1.2, "labelFontSize": 11, "labelOffset": 12, "rowPadding": 2.3, "padding": 0}},
      "shape": {"field": "series", "type": "nominal", "scale": {"domain": ["d0", "B.1", "d31", "d43"], "range": ["circle", "square", "triangle-up", "triangle-down"]}, "legend": null}}},
    {"data": {"name": "one"}, "mark": {"type": "rule", "color": "#000", "strokeDash": [4, 3], "strokeWidth": 1.1}, "encoding": {"y": {"datum": 65536}}},
    {"data": {"name": "p1_tx"}, "mark": {"type": "rule", "color": "#000", "strokeDash": [1.5, 2], "strokeWidth": 1}, "encoding": {"x": {"field": "day", "type": "quantitative"}, "y": {"datum": 65536}, "y2": {"datum": 4}}},
    {"data": {"name": "m_nt"}, "mark": {"type": "errorbar", "ticks": {"size": 5}, "thickness": 1.1}, "encoding": {"x": {"field": "day", "type": "quantitative"}, "y": {"field": "lo", "type": "quantitative", "title": "NT₅₀ (dilution)"}, "y2": {"field": "hi"}, "color": {"field": "series", "type": "nominal", "legend": null}}},
    {"data": {"name": "m_nt"}, "mark": {"type": "line", "strokeWidth": 1.2}, "encoding": {"x": {"field": "day", "type": "quantitative"}, "y": {"field": "value", "type": "quantitative", "title": "NT₅₀ (dilution)"}, "color": {"field": "series", "type": "nominal", "legend": null}}},
    {"data": {"name": "m_prot"}, "mark": {"type": "text", "fontSize": 8, "angle": 270, "clip": false}, "encoding": {"x": {"field": "day", "type": "quantitative"}, "y": {"field": "value", "type": "quantitative", "title": "NT₅₀ (dilution)"}, "text": {"field": "text"}, "color": {"field": "series", "type": "nominal", "legend": null}}},
    {"data": {"name": "m_prot90"}, "mark": {"type": "text", "fontSize": 8, "angle": 90, "clip": false}, "encoding": {"x": {"field": "day", "type": "quantitative"}, "y": {"field": "value", "type": "quantitative", "title": "NT₅₀ (dilution)"}, "text": {"field": "text"}, "color": {"field": "series", "type": "nominal", "legend": null}}},
    {"data": {"name": "one"}, "mark": {"type": "text", "text": "cut off", "fontSize": 10, "align": "left", "clip": false}, "encoding": {"x": {"datum": 93.2}, "y": {"datum": 65536}}},
    {"data": {"name": "one"}, "mark": {"type": "text", "text": "IgG depleted sera", "fontSize": 10, "color": "#555", "clip": false}, "encoding": {"x": {"datum": 9.2}, "y": {"datum": 291000}}},
    {"data": {"name": "one"}, "mark": {"type": "text", "text": "m", "fontSize": 14, "fontWeight": "bold", "align": "left", "clip": false}, "encoding": {"x": {"datum": -29.1}, "y": {"datum": 614000}}}
   ]}
  ]
 }
],
"config": {
 "font": "Liberation Sans",
 "view": {"stroke": null},
 "axis": {"grid": false, "domainColor": "#000", "tickColor": "#000", "labelColor": "#000", "titleColor": "#000", "labelFontSize": 11, "titleFontSize": 13, "titleFontWeight": "normal", "tickWidth": 1, "domainWidth": 1.1, "tickSize": 4, "labelPadding": 2, "zindex": 1, "labelFont": "Liberation Sans", "titleFont": "Liberation Sans"},
 "legend": {"padding": 0, "labelFont": "Liberation Sans", "labelColor": "#000"},
 "text": {"font": "Liberation Sans"}
}
}
